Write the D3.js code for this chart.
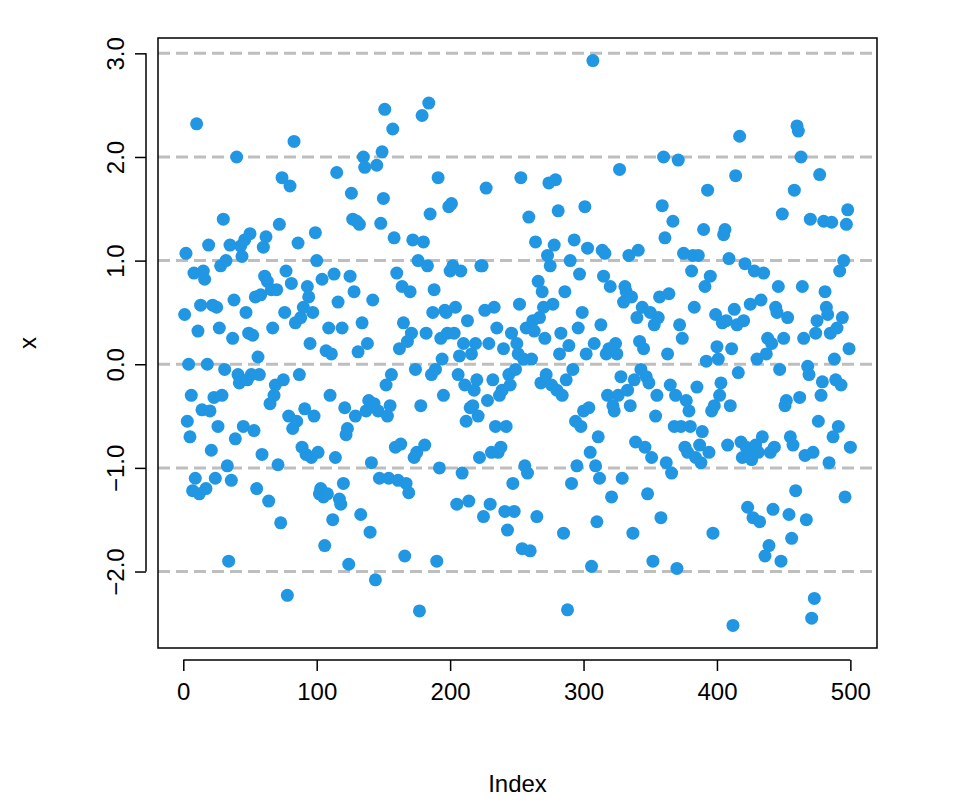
<!DOCTYPE html>
<html><head><meta charset="utf-8">
<script src="https://cdn.jsdelivr.net/npm/d3@7"></script>
<style>body{margin:0;background:#fff}text{font-family:"Liberation Sans",Arial,sans-serif}</style>
</head><body><svg id="c" width="960" height="806"></svg>
<script>
const values = [
0.48,1.07,-0.55,0,-0.7,-0.3,-1.22,0.88,-1.1,2.32,0.32,-1.25,0.57,-0.44,0.9,0.82,-1.2,0,1.15,-0.45,
-0.83,0.57,-0.32,-1.1,0.55,-0.6,0.35,0.95,-0.3,1.4,-0.05,1.0,-0.98,-1.9,1.15,-1.12,0.25,0.62,-0.72,2.0,
-0.1,-0.18,1.14,1.04,-0.6,1.2,0.5,-0.15,0.3,1.26,-0.1,0.28,-0.64,0.65,-1.2,0.07,-0.1,0.67,-0.87,1.13,
0.85,1.23,0.8,-1.32,-0.38,0.72,0.35,-0.3,-0.2,0.72,-0.97,1.35,-1.53,1.8,-0.15,0.5,0.9,-2.23,-0.5,1.72,
0.78,-0.62,2.15,0.4,-0.55,1.17,-0.1,0.45,-0.8,0.55,-0.43,-0.87,0.75,0.65,0.2,-0.9,0.5,-0.5,1.27,1.0,
-0.85,-1.25,-1.2,0.82,-1.28,-1.75,0.13,-1.25,0.35,-0.3,0.1,-1.5,0.87,-0.9,1.85,0.6,-1.3,-1.35,0.35,-1.15,
-0.42,-0.68,-0.62,-1.93,0.85,1.65,1.4,0.7,-0.5,1.38,0.12,1.35,-1.45,0.4,2.0,1.9,-0.45,0.2,-0.35,-1.62,
-0.95,0.62,-0.38,-2.08,1.92,-0.45,-1.1,1.36,2.05,1.6,2.46,-0.2,-0.5,-1.1,-0.4,-0.1,2.27,1.22,-0.8,0.88,
-1.12,0.15,-0.77,0.75,0.4,-1.85,-1.15,0.22,-1.24,0.7,0.3,1.2,-0.9,-0.05,-0.85,1.0,-2.38,-0.4,2.4,1.18,
-0.78,0.3,0.95,2.52,1.45,-0.1,0.5,0.72,-0.05,-1.9,1.8,-1.0,0.25,0.05,-0.3,0.52,0.5,0.3,1.52,0.9,
1.55,0.95,0.3,0.55,-1.35,-0.1,0.08,0.9,-1.05,0.2,-0.2,-0.55,0.42,-1.32,-0.42,0.1,-0.4,-0.25,0.2,-0.15,
-0.5,-0.9,0.95,0.95,-1.47,0.52,1.7,-0.35,0.2,-1.35,-0.85,-0.15,0.55,-0.6,0.35,-0.85,-0.3,-0.8,-0.25,0.15,
-1.42,-0.6,-1.6,-0.1,-0.2,0.3,-1.15,-1.42,-0.05,0.2,0.1,0.58,1.8,-1.78,0.05,-0.98,0.35,-1.05,1.42,-1.8,
0.05,0.42,0.32,1.18,-1.47,0.8,0.45,-0.18,0.7,0.55,0.25,-0.1,1.05,1.75,0.95,-0.2,0.58,1.15,1.78,-0.25,
1.48,0.1,0.3,-0.3,-1.63,0.7,-0.15,-2.37,0.18,1.0,-1.15,-0.05,1.2,-0.55,-0.98,0.35,0.87,-0.6,0.5,-0.45,
1.52,0.1,1.12,-0.42,-0.85,-1.95,2.93,0.2,-0.98,-1.52,-0.7,-1.1,0.38,1.1,0.85,1.07,0.1,-0.3,0.15,0.75,
-1.28,-0.4,-0.45,0.2,0.1,-0.3,1.88,-0.12,-1.1,0.6,0.75,0.7,-0.25,1.05,-0.4,0.65,-1.63,-0.15,-0.75,0.45,
1.1,0.22,-0.05,0.55,0.15,-0.8,-0.12,-1.25,-0.18,0.5,-0.9,-1.9,0.38,-0.5,-0.3,0.45,0.65,-1.48,1.53,2.0,
1.22,-0.95,0.1,0.68,-0.2,-1.05,1.38,-0.6,-0.3,-1.97,1.97,0.38,-0.6,0.25,1.07,-0.8,-0.35,-0.85,-0.45,-0.6,
0.9,1.05,0.55,-0.9,-0.22,1.05,-0.78,-0.95,-0.65,1.3,0.75,0.03,1.68,-0.85,0.85,-0.45,-1.63,-0.4,0.48,0.17,
0.05,-0.3,-0.18,0.4,1.25,1.3,0.42,-0.78,1.02,-0.4,0.15,-2.52,0.53,1.82,0.38,-0.08,2.2,-0.75,-0.9,0.42,
0.97,-0.8,-1.38,-0.85,0.58,-0.92,-1.48,0.9,-0.78,0.05,-0.85,-1.52,0.62,-0.7,0.88,-1.85,0.1,0.25,-1.75,-0.85,
0.2,-1.4,-0.8,0.55,0.5,0.75,-0.05,-1.9,1.45,0.25,-0.4,-0.35,0.45,-1.45,-0.7,-1.68,-0.78,1.68,-1.22,2.3,
2.25,-0.32,2.0,0.75,0.25,-0.88,-1.5,-0.02,-0.1,1.4,-2.45,-0.85,-2.26,0.3,0.42,-0.55,1.83,-0.3,-0.17,1.38,
0.7,0.55,0.48,-0.95,0.3,1.37,-0.7,0.05,-0.15,0.35,-0.6,0.9,-0.2,0.45,1.0,-1.28,1.35,1.49,0.15,-0.8
];
const gridLevels = [-2, -1, 0, 1, 2, 3];
const xTicks = [0, 100, 200, 300, 400, 500];
const yTicks = [-2, -1, 0, 1, 2, 3];

const svg = d3.select('#c');
const box = { l: 158, r: 877, t: 38, b: 648 };
const x = d3.scaleLinear().domain([-18.96, 519.96]).range([box.l, box.r]);
const y = d3.scaleLinear().domain([-2.738, 3.148]).range([box.b, box.t]);

// dashed reference lines
svg.selectAll('line.grid').data(gridLevels).join('line')
  .attr('x1', box.l).attr('x2', box.r)
  .attr('y1', d => y(d)).attr('y2', d => y(d))
  .attr('stroke', '#bebebe').attr('stroke-width', 3).attr('stroke-dasharray', '12,6');

svg.append('g').selectAll('circle').data(values).join('circle')
  .attr('cx', (d, i) => x(i + 1)).attr('cy', d => y(d))
  .attr('r', 6.5).attr('fill', '#2196e3');

svg.append('rect').attr('x', box.l).attr('y', box.t)
  .attr('width', box.r - box.l).attr('height', box.b - box.t)
  .attr('fill', 'none').attr('stroke', '#000').attr('stroke-width', 1.5);

const xa = svg.append('g').attr('transform', `translate(0,${box.b + 12})`)
  .call(d3.axisBottom(x).tickValues(xTicks).tickSize(11).tickPadding(12));
const ya = svg.append('g').attr('transform', `translate(${box.l - 12},0)`)
  .call(d3.axisLeft(y).tickValues(yTicks).tickSize(11).tickPadding(10));
[xa, ya].forEach(a => {
  a.selectAll('path,line').attr('stroke', '#000').attr('stroke-width', 1.5);
  a.select('.domain').attr('d', null);
  a.selectAll('text').attr('font-size', 24).attr('fill', '#000')
    .attr('font-family', '"Liberation Sans",Arial,sans-serif');
});
xa.append('line').attr('x1', x(0)).attr('x2', x(500)).attr('stroke', '#000').attr('stroke-width', 1.5);
ya.append('line').attr('y1', y(-2)).attr('y2', y(3)).attr('stroke', '#000').attr('stroke-width', 1.5);
ya.selectAll('.tick text')
  .attr('transform', 'rotate(-90)').attr('x', 0).attr('y', -30)
  .attr('dy', '0.35em').attr('text-anchor', 'middle');

svg.append('text').attr('x', (box.l + box.r) / 2).attr('y', 792)
  .attr('text-anchor', 'middle').attr('font-size', 24).text('Index');
svg.append('text').attr('transform', `translate(36,${(box.t + box.b) / 2}) rotate(-90)`)
  .attr('text-anchor', 'middle').attr('font-size', 24).text('x');
</script></body></html>
